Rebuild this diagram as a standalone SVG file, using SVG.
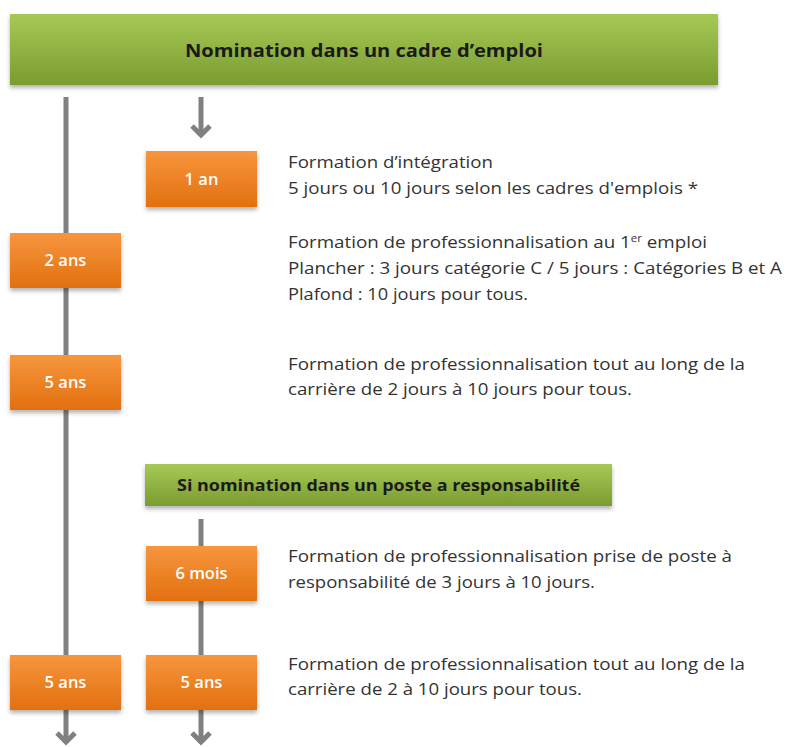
<svg xmlns="http://www.w3.org/2000/svg" width="786" height="747" viewBox="0 0 786 747">
<style>
.desc{font-family:"Open Sans","Liberation Sans",sans-serif;font-size:16.5px;fill:#333333}
.lbl{font-family:"Open Sans","Liberation Sans",sans-serif;font-size:16.5px;font-weight:600;fill:#ffffff;text-anchor:middle}
.ttl{font-family:"Open Sans","Liberation Sans",sans-serif;font-weight:700;fill:#1a1a1a;text-anchor:middle}
.box{fill:url(#orange);filter:url(#shadow)}
.bar{fill:url(#green);filter:url(#shadow)}
.conn{stroke:#808080;stroke-width:5;fill:none;marker-end:url(#chev)}
</style>
<defs>
<linearGradient id="orange" x1="0" y1="0" x2="0" y2="1">
<stop offset="0" stop-color="#f7963e"/>
<stop offset="1" stop-color="#e2700f"/>
</linearGradient>
<linearGradient id="green" x1="0" y1="0" x2="0" y2="1">
<stop offset="0" stop-color="#a6c956"/>
<stop offset="1" stop-color="#7a9c30"/>
</linearGradient>
<filter id="shadow" x="-10%" y="-20%" width="120%" height="150%">
<feDropShadow dx="0" dy="3" stdDeviation="2" flood-color="#000" flood-opacity="0.3"/>
</filter>
<marker id="chev" viewBox="-14 -12 20 24" refX="0" refY="0" markerWidth="20" markerHeight="24" markerUnits="userSpaceOnUse" orient="auto" overflow="visible">
<path d="M-10,-9 L-1,0 L-10,9" fill="none" stroke="#808080" stroke-width="5" stroke-linejoin="miter"/>
</marker>
</defs>
<rect width="786" height="747" fill="#ffffff"/>
<g id="connectors">
<path class="conn" d="M66,97 L66,743"/>
<path class="conn" d="M201,97 L201,136"/>
<path class="conn" d="M201,519 L201,743"/>
</g>
<g id="title-main">
<rect class="bar" x="10" y="14" width="708" height="71"/>
<text class="ttl" x="364" y="57" font-size="17.5" textLength="358" lengthAdjust="spacingAndGlyphs">Nomination dans un cadre d’emploi</text>
</g>
<g id="node-1an">
<rect class="box" x="146" y="151" width="111" height="56"/>
<text class="lbl" x="201.5" y="185">1 an</text>
</g>
<g id="text-1an">
<text class="desc" x="288" y="168" textLength="205" lengthAdjust="spacingAndGlyphs">Formation d’intégration</text>
<text class="desc" x="288" y="194" textLength="410" lengthAdjust="spacingAndGlyphs">5 jours ou 10 jours selon les cadres d'emplois *</text>
</g>
<g id="node-2ans">
<rect class="box" x="10" y="233" width="111" height="55"/>
<text class="lbl" x="65.5" y="266">2 ans</text>
</g>
<g id="text-2ans">
<text class="desc" x="288" y="248" textLength="419" lengthAdjust="spacingAndGlyphs">Formation de professionnalisation au 1<tspan font-size="10" dy="-6">er</tspan><tspan dy="6"> emploi</tspan></text>
<text class="desc" x="288" y="274" textLength="494" lengthAdjust="spacingAndGlyphs">Plancher : 3 jours catégorie C / 5 jours : Catégories B et A</text>
<text class="desc" x="288" y="300" textLength="240" lengthAdjust="spacingAndGlyphs">Plafond : 10 jours pour tous.</text>
</g>
<g id="node-5ans-a">
<rect class="box" x="10" y="355" width="111" height="55"/>
<text class="lbl" x="65.5" y="388">5 ans</text>
</g>
<g id="text-5ans-a">
<text class="desc" x="288" y="370" textLength="457" lengthAdjust="spacingAndGlyphs">Formation de professionnalisation tout au long de la</text>
<text class="desc" x="288" y="395" textLength="344" lengthAdjust="spacingAndGlyphs">carrière de 2 jours à 10 jours pour tous.</text>
</g>
<g id="title-resp">
<rect class="bar" x="145" y="464" width="467" height="42"/>
<text class="ttl" x="378.5" y="491" font-size="16.5" textLength="403" lengthAdjust="spacingAndGlyphs">Si nomination dans un poste a responsabilité</text>
</g>
<g id="node-6mois">
<rect class="box" x="146" y="546" width="111" height="55"/>
<text class="lbl" x="201.5" y="579">6 mois</text>
</g>
<g id="text-6mois">
<text class="desc" x="288" y="562" textLength="444" lengthAdjust="spacingAndGlyphs">Formation de professionnalisation prise de poste à</text>
<text class="desc" x="288" y="588" textLength="307" lengthAdjust="spacingAndGlyphs">responsabilité de 3 jours à 10 jours.</text>
</g>
<g id="node-5ans-b">
<rect class="box" x="10" y="655" width="111" height="55"/>
<text class="lbl" x="65.5" y="688">5 ans</text>
</g>
<g id="node-5ans-c">
<rect class="box" x="146" y="655" width="111" height="55"/>
<text class="lbl" x="201.5" y="688">5 ans</text>
</g>
<g id="text-5ans-b">
<text class="desc" x="288" y="670" textLength="457" lengthAdjust="spacingAndGlyphs">Formation de professionnalisation tout au long de la</text>
<text class="desc" x="288" y="695" textLength="294" lengthAdjust="spacingAndGlyphs">carrière de 2 à 10 jours pour tous.</text>
</g>
</svg>
